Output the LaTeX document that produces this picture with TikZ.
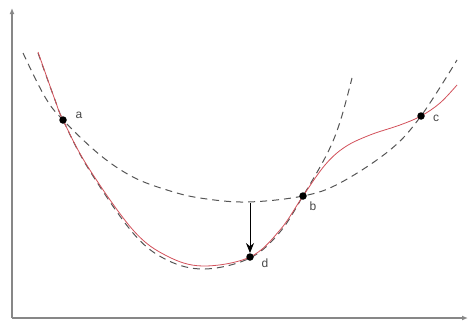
\documentclass[tikz,border=0pt]{standalone}
\usepackage{fontspec}
\setsansfont{Liberation Sans}
\usetikzlibrary{arrows.meta}
\definecolor{curvered}{RGB}{210,80,90}
\definecolor{axisgray}{RGB}{135,135,135}
\definecolor{dashgray}{RGB}{85,85,85}
\begin{document}
\begin{tikzpicture}[x=1pt,y=-1pt,
  axis/.style={draw=axisgray,line width=1.8pt,-{Latex[length=6pt,width=5pt]}},
  parab/.style={draw=dashgray,line width=1pt,dash pattern=on 7pt off 5pt},
  fcurve/.style={draw=curvered,line width=0.8pt},
  dot/.style={circle,fill=black,inner sep=0pt,minimum size=7.5pt},
  lab/.style={font=\sffamily\large,text=black!72},
  step arrow/.style={draw=black,line width=1pt,-{Stealth[length=10pt,width=8pt]}}]
\useasboundingbox (0,0) rectangle (469,324);
% axes
\coordinate (O) at (12,318);
\coordinate (Ytop) at (12,8);
\coordinate (Xend) at (468,318);
% parabola through a, b, c
\draw[parab] plot[smooth,tension=0.6] coordinates {(23,53) (45,97) (63,120) (100,155) (133,177) (167,190) (200,198) (247,202) (303,196) (340,183) (390,150) (421,116) (457,60)};
% parabola through a, d, b
\draw[parab] plot[smooth,tension=0.6] coordinates {(38,53) (55,100) (63,120) (88,168) (133,233) (167,260) (205,269) (250,258) (280,232) (303,196) (327,154) (340,122) (352,78)};
% function
\draw[fcurve] plot[smooth,tension=0.6] coordinates {(38,52) (55,100) (63,120) (88,167) (133,230) (167,256) (203,266) (250,257) (280,230) (303,196) (325,165) (345,147) (370,135) (400,125) (421,116) (440,103) (457,85)};
\draw[axis] (O) -- (Ytop);
\draw[axis] (O) -- (Xend);
% points
\node[dot] (a) at (63,120) {};
\node[dot] (b) at (303,196) {};
\node[dot] (c) at (421,116) {};
\node[dot] (d) at (250,257) {};
\node[lab] (la) at (79,115) {a};
\node[lab] (lb) at (313,206) {b};
\node[lab] (lc) at (436,118) {c};
\node[lab] (ld) at (265,263) {d};
\coordinate (top) at (250,203);
\draw[step arrow] (top) -- (d.north);
\end{tikzpicture}
\end{document}
